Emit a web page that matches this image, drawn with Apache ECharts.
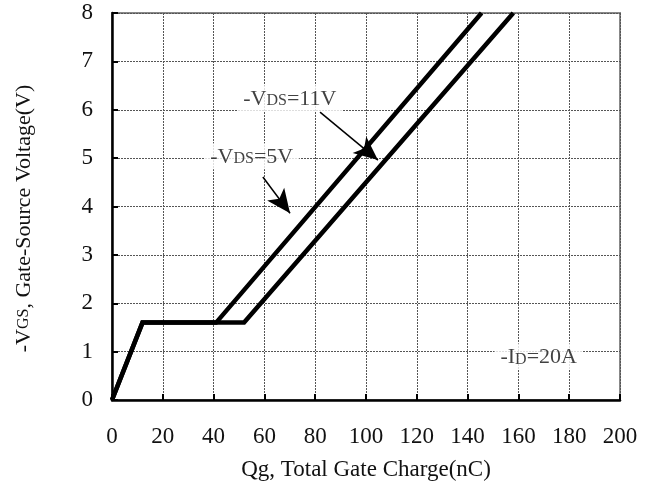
<!DOCTYPE html>
<html>
<head>
<meta charset="utf-8">
<script src="https://cdn.jsdelivr.net/npm/echarts@6/dist/echarts.min.js"></script>
<style>html,body{margin:0;padding:0;background:#fff}#c{width:651px;height:488px}</style>
</head>
<body>
<div id="c"></div>
<script>
// Data
var qg5 = [0, 12, 41, 145.5];
var vgs5 = [0, 1.6, 1.6, 8];
var qg11 = [0, 12, 52, 158];
var vgs11 = [0, 1.6, 1.6, 8];
var xTicks = [0, 20, 40, 60, 80, 100, 120, 140, 160, 180, 200];
var yTicks = [0, 1, 2, 3, 4, 5, 6, 7, 8];
// annotation anchors (data units)
var labelNames = ['vds11', 'vds5', 'id'];
var labelQg = [70, 55, 168];
var labelV = [6.24, 5.04, 0.9];
var arrowFrom = [[81.9, 5.95], [59.4, 4.61]];
var arrowTo = [[104.7, 4.96], [70.1, 3.86]];

var FONT = 'Liberation Serif';
function pairs(xs, ys) { return xs.map(function (x, i) { return [x, ys[i]]; }); }
var richStyle = {
  a: { fontFamily: FONT, fontSize: 22, color: '#111', verticalAlign: 'bottom', lineHeight: 24 },
  b: { fontFamily: FONT, fontSize: 16, color: '#111', verticalAlign: 'bottom', lineHeight: 24, padding: [0, 0, 1, 0] }
};
var labelTexts = {
  vds11: '{a|-V}{b|DS}{a|=11V}',
  vds5: '{a|-V}{b|DS}{a|=5V}',
  id: '{a|-I}{b|D}{a|=20A}'
};

var chart = echarts.init(document.getElementById('c'), null, { renderer: 'canvas' });
chart.setOption({
  backgroundColor: '#fff',
  animation: false,
  grid: { left: 112, right: 31, top: 13, bottom: 88, show: true, borderColor: '#888', borderWidth: 2 },
  xAxis: {
    type: 'value', min: 0, max: 200, interval: 20,
    name: 'Qg, Total Gate Charge(nC)', nameLocation: 'middle', nameGap: 58,
    nameTextStyle: { fontFamily: FONT, fontSize: 23, color: '#111' },
    axisLine: { show: true, lineStyle: { color: '#000', width: 2.5 } },
    axisTick: { show: true, inside: true, length: 6, lineStyle: { color: '#000', width: 2 } },
    axisLabel: { fontFamily: FONT, fontSize: 23, color: '#111', margin: 25 },
    splitLine: { show: true, lineStyle: { color: '#555', width: 1, type: [2, 1] } }
  },
  yAxis: {
    type: 'value', min: 0, max: 8, interval: 1,
    name: '-V{s|GS}, Gate-Source Voltage(V)', nameLocation: 'middle', nameGap: 77, nameRotate: 90,
    nameTextStyle: { fontFamily: FONT, fontSize: 22, color: '#111', padding: [0, 24, 0, 0],
      rich: { s: { fontFamily: FONT, fontSize: 16, color: '#111' } } },
    axisLine: { show: true, lineStyle: { color: '#000', width: 2.5 } },
    axisTick: { show: true, inside: true, length: 6, lineStyle: { color: '#000', width: 2 } },
    axisLabel: { fontFamily: FONT, fontSize: 23, color: '#111', margin: 19 },
    splitLine: { show: true, lineStyle: { color: '#555', width: 1, type: [2, 1] } }
  },
  series: [
    {
      name: 'VDS=5V', type: 'line', data: pairs(qg5, vgs5), showSymbol: false, symbol: 'none',
      lineStyle: { color: '#000', width: 4.5, join: 'miter' }, z: 3
    },
    {
      name: 'VDS=11V', type: 'line', data: pairs(qg11, vgs11), showSymbol: false, symbol: 'none',
      lineStyle: { color: '#000', width: 4.5, join: 'miter' }, z: 3,
      markLine: {
        silent: true, symbol: ['none', 'arrow'], symbolSize: [16, 24],
        lineStyle: { color: '#000', width: 1.5, type: 'solid' },
        label: { show: false },
        data: arrowFrom.map(function (f, i) { return [{ coord: f }, { coord: arrowTo[i] }]; })
      }
    },
    {
      name: 'labels', type: 'scatter', symbolSize: 0, z: 5,
      data: labelNames.map(function (n, i) { return { name: n, value: [labelQg[i], labelV[i]] }; }),
      label: {
        show: true, position: 'inside', backgroundColor: '#fff', padding: [1, 6, 1, 6],
        formatter: function (p) { return labelTexts[p.name]; },
        rich: richStyle
      }
    }
  ]
});
</script>
</body>
</html>
